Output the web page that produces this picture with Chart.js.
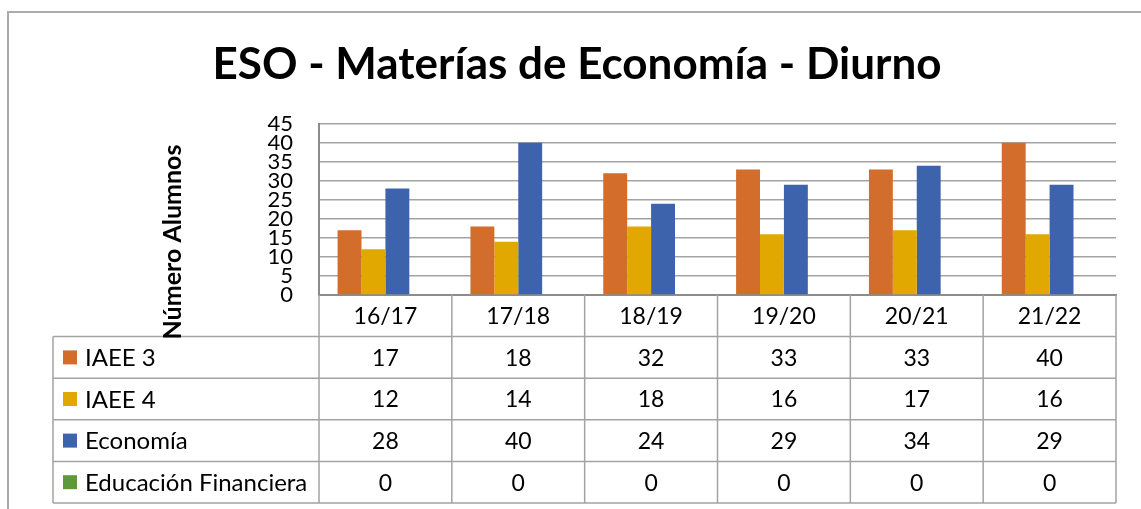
<!DOCTYPE html>
<html>
<head>
<meta charset="utf-8">
<script src="https://cdn.jsdelivr.net/npm/chart.js@4/dist/chart.umd.min.js"></script>
<style>
  html, body { margin: 0; padding: 0; background: #fff; }
  #wrap { width: 1141px; height: 509px; position: relative; }
</style>
</head>
<body>
<div id="wrap"><canvas id="c" width="1141" height="509"></canvas></div>
<script>
const categories = ['16/17', '17/18', '18/19', '19/20', '20/21', '21/22'];
const seriesNames = ['IAEE 3', 'IAEE 4', 'Economía', 'Educación Financiera'];
const iaee3 = [17, 18, 32, 33, 33, 40];
const iaee4 = [12, 14, 18, 16, 17, 16];
const economia = [28, 40, 24, 29, 34, 29];
const educacionFinanciera = [0, 0, 0, 0, 0, 0];
const yTicks = [0, 5, 10, 15, 20, 25, 30, 35, 40, 45];
const titleText = 'ESO - Materías de Economía - Diurno';
const yTitleText = 'Número Alumnos';

const colors = ['#D26D2B', '#E0A800', '#3C63AB', '#5F993B'];
const FONT = 'Lato, "Liberation Sans", sans-serif';
const LINE = '#A3A3A3';

const seriesValues = [iaee3, iaee4, economia, educacionFinanciera];

const tablePlugin = {
  id: 'dataTable',
  beforeDraw(chart) {
    const ctx = chart.ctx;
    ctx.save();
    ctx.strokeStyle = '#ABABAB';
    ctx.lineWidth = 2;
    ctx.beginPath();
    ctx.moveTo(8, 509);
    ctx.lineTo(8, 12);
    ctx.lineTo(1141, 12);
    ctx.stroke();
    ctx.restore();
  },
  afterDraw(chart) {
    const ctx = chart.ctx;
    const x = chart.scales.x;
    const area = chart.chartArea;
    const n = categories.length;
    const colW = (x.right - x.left) / n;
    const rowH = 41.6;
    const top = area.bottom;
    const rows = seriesNames.length;
    const tableLeft = 53;
    ctx.save();
    ctx.strokeStyle = LINE;
    ctx.lineWidth = 1.5;
    ctx.beginPath();
    for (let r = 1; r <= rows + 1; r++) {
      const yy = top + r * rowH;
      ctx.moveTo(tableLeft, yy);
      ctx.lineTo(x.right, yy);
    }
    for (let i = 0; i <= n; i++) {
      const xx = x.left + i * colW;
      ctx.moveTo(xx, top);
      ctx.lineTo(xx, top + (rows + 1) * rowH);
    }
    ctx.moveTo(tableLeft, top + rowH);
    ctx.lineTo(tableLeft, top + (rows + 1) * rowH);
    ctx.stroke();

    ctx.textBaseline = 'middle';
    for (let r = 0; r < rows; r++) {
      const cy = top + (r + 1.5) * rowH;
      ctx.fillStyle = colors[r];
      ctx.fillRect(63, cy - 7, 14, 14);
      ctx.fillStyle = '#000';
      ctx.textAlign = 'left';
      ctx.font = '24px ' + FONT;
      ctx.fillText(seriesNames[r], 85, cy + 1);
      ctx.textAlign = 'center';
      ctx.font = '23px ' + FONT;
      for (let i = 0; i < n; i++) {
        ctx.fillText(String(seriesValues[r][i]), x.getPixelForTick(i), cy + 1);
      }
    }

    ctx.font = 'bold 25px ' + FONT;
    ctx.translate(173, 242);
    ctx.rotate(-Math.PI / 2);
    ctx.textAlign = 'center';
    ctx.textBaseline = 'middle';
    ctx.fillText(yTitleText, 0, 0);
    ctx.restore();
  }
};

new Chart(document.getElementById('c'), {
  type: 'bar',
  data: {
    labels: categories,
    datasets: seriesNames.map((name, i) => ({
      label: name,
      data: seriesValues[i],
      backgroundColor: colors[i],
      borderWidth: 0,
      categoryPercentage: 0.72,
      barPercentage: 1.0
    }))
  },
  options: {
    responsive: false,
    animation: false,
    layout: { padding: { left: 38, right: 25, top: 10, bottom: 0 } },
    plugins: {
      legend: { display: false },
      tooltip: { enabled: false },
      title: {
        display: true,
        text: titleText,
        color: '#000',
        font: { family: FONT, size: 44, weight: 'bold' },
        padding: { top: 28, bottom: 33 }
      }
    },
    scales: {
      x: {
        grid: { display: false, drawTicks: false },
        border: { display: true, color: '#8C8C8C', width: 2 },
        ticks: { color: '#000', font: { family: FONT, size: 23 }, padding: 8, maxRotation: 0 },
        afterFit(scale) { scale.height = 214; }
      },
      y: {
        min: 0,
        max: 45,
        afterBuildTicks(scale) { scale.ticks = yTicks.map(v => ({ value: v })); },
        grid: { color: LINE, lineWidth: 1.5, drawTicks: false },
        border: { display: true, color: '#8C8C8C', width: 2 },
        ticks: { color: '#000', font: { family: FONT, size: 22, lineHeight: 1 }, padding: 26, autoSkip: false },
        afterFit(scale) { scale.width = 281; }
      }
    }
  },
  plugins: [tablePlugin]
});
</script>
</body>
</html>
